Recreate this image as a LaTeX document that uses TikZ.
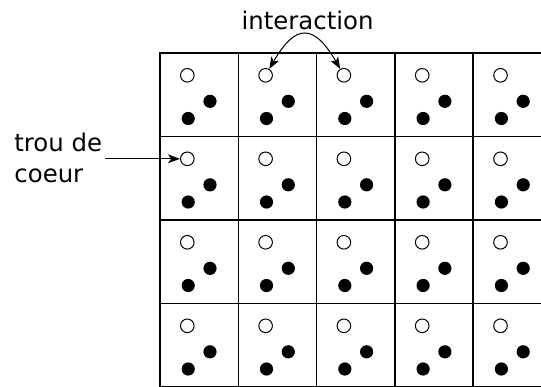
\documentclass[tikz,border=0pt]{standalone}
\usepackage{fontspec}
\setmainfont{DejaVu Sans}
\usetikzlibrary{arrows.meta,positioning}
\tikzset{>={Stealth[length=6pt,width=4.4pt,inset=1.6pt]}}
\tikzset{cell/.style={draw,line width=0.75pt,minimum width=39.15pt,minimum height=41.75pt,inner sep=0pt,outer sep=0pt}}
\tikzset{trou/.style={circle,draw,line width=0.5pt,fill=white,minimum size=6.8pt,inner sep=0pt}}
\tikzset{elec/.style={circle,fill=black,minimum size=6.6pt,inner sep=0pt}}

\begin{document}
\begin{tikzpicture}[x=0.5pt,y=-0.5pt,font=\fontsize{12.2}{15.5}\selectfont]
  \useasboundingbox (0,0) rectangle (541,386);
  \clip (0,0) rectangle (541,386);
  % reseau de cellules
  \foreach \r in {0,...,3}{
    \foreach \c in {0,...,4}{
      \node[cell,anchor=north west] (cell-\r-\c) at ({160+78.3*\c},{53+83.5*\r}) {};
      \node[trou] (h-\r-\c) at ({187.3+78.3*\c},{75.3+83.5*\r}) {};
      \node[elec] (ea-\r-\c) at ({210+78.3*\c},{101.3+83.5*\r}) {};
      \node[elec] (eb-\r-\c) at ({188.2+78.3*\c},{118.5+83.5*\r}) {};
    }}
  \node[inner sep=0pt,anchor=base] (inter) at (307.5,29.3) {interaction};
  \node[inner sep=0pt,align=left,anchor=base west] (trou) at (14,182.7) {trou de\\coeur};
  \draw[<->,line width=0.5pt] (h-0-1) to[out=60,in=120,looseness=1.9] (h-0-2);
  \draw[->,line width=0.5pt] ([xshift=1pt]trou.east |- h-1-0.west) -- (h-1-0.west);
\end{tikzpicture}
\end{document}
